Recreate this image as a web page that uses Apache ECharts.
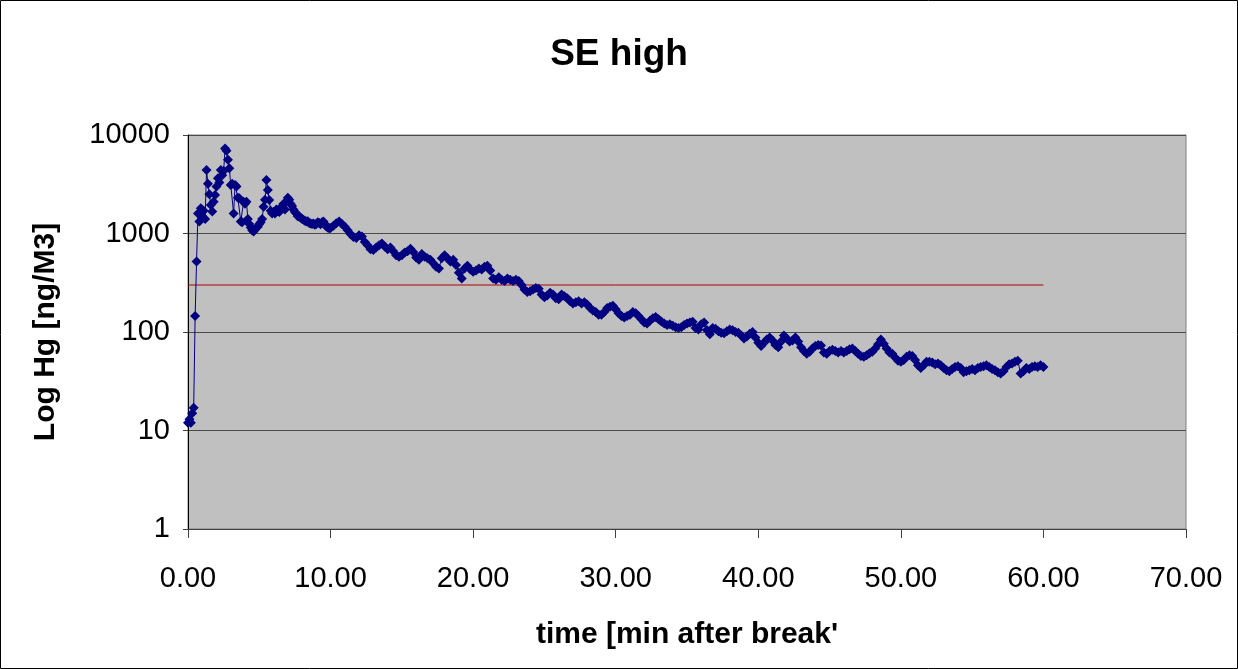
<!DOCTYPE html>
<html>
<head>
<meta charset="utf-8">
<script src="https://cdn.jsdelivr.net/npm/echarts@6/dist/echarts.min.js"></script>
<style>
html,body{margin:0;padding:0;background:#fff;}
#chart{width:1238px;height:669px;}
</style>
</head>
<body>
<div id="chart"></div>
<script>
// ---- data ----
const chartTitle = 'SE high';
const xAxisTitle = "time [min after break'";
const yAxisTitle = 'Log Hg [ng/M3]';

// Hg readings, 0.0 to 10.0 min, every 0.1 min
const hgEarly = [
  12,13,12,15,17,145,520,1600,1320,1800,
  1500,1700,1400,4400,3200,2500,1950,1670,2100,2460,
  3000,3630,3300,4400,3900,4300,7300,6900,5600,4600,
  3100,3200,1600,3100,3000,2300,2280,1320,1300,2100,
  2000,2100,1400,1250,1150,1080,1050,1100,1150,1170,
  1250,1300,1400,1870,2200,3500,2770,2190,1700,1600,
  1650,1600,1750,1700,1650,1800,1900,2000,1750,2100,
  2300,2200,2000,1900,1750,1650,1600,1500,1480,1450,
  1400,1380,1350,1320,1330,1280,1260,1250,1260,1230,
  1250,1300,1280,1240,1300,1320,1250,1180,1150,1130,
  1140
];
const earlyStart = 0.0, earlyStep = 0.1;

// Hg readings, 10.2 to 60.0 min, every 0.2 min
const hgLate = [
  1200,1270,1320,1250,1170,1080,990,920,900,960,
  930,820,760,690,680,720,760,790,740,690,
  720,660,600,580,600,640,660,700,650,570,
  540,620,580,560,540,500,460,440,560,600,
  560,520,540,480,400,350,440,470,430,410,
  420,440,430,460,470,420,350,340,360,340,
  330,350,340,330,340,330,300,270,255,260,
  270,280,275,240,225,235,250,240,220,215,
  240,230,220,205,195,200,205,195,200,190,
  175,165,160,150,150,160,175,180,185,170,
  155,145,140,145,150,160,155,145,135,125,
  122,130,138,142,135,128,122,118,120,116,
  112,110,112,118,122,125,127,110,106,120,
  125,105,95,110,108,102,98,97,102,106,
  104,100,98,92,86,90,96,100,88,78,
  72,78,84,88,82,74,70,80,92,86,
  80,82,88,80,70,64,60,63,68,72,
  74,73,62,60,64,66,64,62,64,62,
  64,67,68,64,60,57,56,58,61,63,
  68,75,84,76,68,62,60,55,51,50,
  52,56,58,57,52,46,43,46,50,50,
  49,47,48,46,43,41,40,42,44,45,
  43,39,40,41,42,41,43,44,45,46,
  44,42,41,39,38,40,44,47,48,50,
  51,38,40,43,42,44,45,44,46,44
];
const lateStart = 10.2, lateStep = 0.2;

// threshold line
const thresholdValue = 300;
const thresholdTimes = [0, 60];

// axis ranges
const xMin = 0, xMax = 70, xInterval = 10;
const yMin = 1, yMax = 10000;

// ---- build ----
const hgSeries = []
  .concat(hgEarly.map((v, i) => [+(earlyStart + i * earlyStep).toFixed(2), v]))
  .concat(hgLate.map((v, i) => [+(lateStart + i * lateStep).toFixed(2), v]));
const thresholdSeries = thresholdTimes.map(t => [t, thresholdValue]);

const FONT = "'Liberation Sans', Arial, sans-serif";
const chart = echarts.init(document.getElementById('chart'), null, {renderer: 'canvas'});
chart.setOption({
  animation: false,
  backgroundColor: '#ffffff',
  title: {
    text: chartTitle,
    left: 'center',
    top: 31,
    textStyle: {fontFamily: FONT, fontSize: 37, fontWeight: 'bold', color: '#000'}
  },
  graphic: [{
    type: 'rect', silent: true, z: 100,
    shape: {x: 0.5, y: 0.5, width: 1237, height: 668},
    style: {fill: null, stroke: '#000', lineWidth: 1}
  }],
  grid: {
    left: 188, right: 52, top: 135, bottom: 140,
    show: true, backgroundColor: '#c0c0c0', borderColor: '#808080', borderWidth: 1
  },
  xAxis: {
    type: 'value', min: xMin, max: xMax, interval: xInterval,
    name: xAxisTitle, nameLocation: 'middle', nameGap: 91,
    nameTextStyle: {fontFamily: FONT, fontSize: 30, fontWeight: 'bold', color: '#000'},
    axisLine: {show: true, onZero: false, lineStyle: {color: '#404040', width: 1}},
    axisTick: {show: true, length: 9, lineStyle: {color: '#404040'}},
    axisLabel: {
      fontFamily: FONT, fontSize: 29, color: '#000', margin: 35,
      formatter: v => v.toFixed(2)
    },
    splitLine: {show: false}
  },
  yAxis: {
    type: 'log', logBase: 10, min: yMin, max: yMax,
    name: yAxisTitle, nameLocation: 'middle', nameGap: 127, nameRotate: 90,
    nameTextStyle: {fontFamily: FONT, fontSize: 30, fontWeight: 'bold', color: '#000'},
    axisLine: {show: true, lineStyle: {color: '#000', width: 1}},
    axisTick: {show: true, length: 5, lineStyle: {color: '#404040'}},
    axisLabel: {
      fontFamily: FONT, fontSize: 29, color: '#000', margin: 18,
      formatter: v => String(Math.round(v))
    },
    splitLine: {show: true, lineStyle: {color: '#4a4a4a', width: 1}},
    minorTick: {show: false}
  },
  series: [
    {
      name: 'Hg', type: 'line', data: hgSeries,
      symbol: 'diamond', symbolSize: 10, showAllSymbol: true,
      itemStyle: {color: '#000080'},
      lineStyle: {color: '#000080', width: 1},
      z: 3
    },
    {
      name: 'limit', type: 'line', data: thresholdSeries,
      symbol: 'none', lineStyle: {color: '#b00000', width: 1}, z: 2
    }
  ]
});
</script>
</body>
</html>
